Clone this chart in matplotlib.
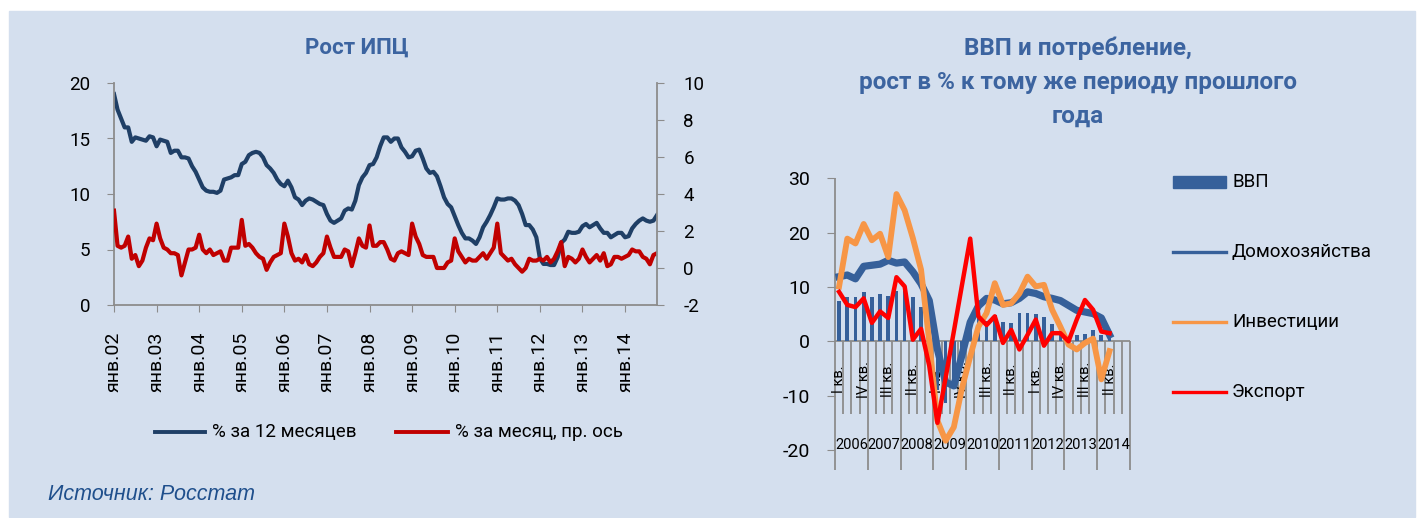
import matplotlib
matplotlib.use("Agg")
import matplotlib.pyplot as plt
from matplotlib.lines import Line2D
from matplotlib.patches import Rectangle
import numpy as np

plt.rcParams['font.family'] = ['Roboto', 'DejaVu Sans']
plt.rcParams['axes.unicode_minus'] = False

# CPI growth, monthly from Jan 2002 to Oct 2014
cpi_12m = [19.0, 17.6, 16.8, 16.0, 16.0, 14.7, 15.1, 15.0, 14.9, 14.8, 15.2, 15.1,
           14.3, 14.9, 14.8, 14.7, 13.7, 13.9, 13.9, 13.3, 13.3, 13.2, 12.5, 12.0,
           11.3, 10.6, 10.3, 10.2, 10.2, 10.1, 10.3, 11.3, 11.4, 11.5, 11.7, 11.7,
           12.7, 12.9, 13.5, 13.7, 13.8, 13.7, 13.3, 12.6, 12.3, 11.9, 11.3, 10.9,
           10.7, 11.2, 10.6, 9.7, 9.5, 9.0, 9.4, 9.6, 9.5, 9.3, 9.1, 9.0,
           8.2, 7.6, 7.4, 7.6, 7.8, 8.5, 8.7, 8.6, 9.4, 10.8, 11.5, 11.9,
           12.6, 12.7, 13.3, 14.3, 15.1, 15.1, 14.7, 15.0, 15.0, 14.2, 13.8, 13.3,
           13.4, 13.9, 14.0, 13.2, 12.3, 11.9, 12.0, 11.6, 10.7, 9.7, 9.1, 8.8,
           8.0, 7.2, 6.5, 6.0, 6.0, 5.8, 5.5, 6.1, 7.0, 7.5, 8.1, 8.8,
           9.6, 9.5, 9.5, 9.6, 9.6, 9.4, 9.0, 8.2, 7.2, 7.2, 6.8, 6.1,
           4.2, 3.7, 3.7, 3.6, 3.6, 4.3, 5.6, 5.9, 6.6, 6.5, 6.5, 6.6,
           7.1, 7.3, 7.0, 7.2, 7.4, 6.9, 6.5, 6.5, 6.1, 6.3, 6.5, 6.5,
           6.1, 6.2, 6.9, 7.3, 7.6, 7.8, 7.6, 7.5, 7.6, 8.1]
cpi_1m = [3.1, 1.2, 1.1, 1.2, 1.7, 0.5, 0.7, 0.1, 0.4, 1.1, 1.6, 1.5,
          2.4, 1.6, 1.1, 1.0, 0.8, 0.8, 0.7, -0.4, 0.3, 1.0, 1.0, 1.1,
          1.8, 1.0, 0.8, 1.0, 0.7, 0.8, 0.9, 0.4, 0.4, 1.1, 1.1, 1.1,
          2.6, 1.2, 1.3, 1.1, 0.8, 0.6, 0.5, -0.1, 0.3, 0.6, 0.7, 0.8,
          2.4, 1.7, 0.8, 0.4, 0.5, 0.3, 0.7, 0.2, 0.1, 0.3, 0.6, 0.8,
          1.7, 1.1, 0.6, 0.6, 0.6, 1.0, 0.9, 0.1, 0.8, 1.6, 1.2, 1.1,
          2.3, 1.2, 1.2, 1.4, 1.4, 1.0, 0.5, 0.4, 0.8, 0.9, 0.8, 0.7,
          2.4, 1.7, 1.3, 0.7, 0.6, 0.6, 0.6, 0.0, 0.0, 0.0, 0.3, 0.4,
          1.6, 0.9, 0.6, 0.3, 0.5, 0.4, 0.4, 0.6, 0.8, 0.5, 0.8, 1.1,
          2.4, 0.8, 0.6, 0.4, 0.5, 0.2, 0.0, -0.2, 0.0, 0.5, 0.4, 0.4,
          0.5, 0.4, 0.6, 0.3, 0.5, 0.9, 1.4, 0.1, 0.6, 0.5, 0.3, 0.5,
          1.0, 0.6, 0.3, 0.5, 0.7, 0.4, 0.8, 0.1, 0.2, 0.6, 0.6, 0.5,
          0.6, 0.7, 1.0, 0.9, 0.9, 0.6, 0.5, 0.2, 0.7, 0.8]
month_labels = ['янв.02', 'янв.03', 'янв.04', 'янв.05', 'янв.06', 'янв.07', 'янв.08',
                'янв.09', 'янв.10', 'янв.11', 'янв.12', 'янв.13', 'янв.14']

# GDP and components, quarterly 2006 Q1 - 2014 Q2 (axis runs to 2014 Q4)
years = ['2006', '2007', '2008', '2009', '2010', '2011', '2012', '2013', '2014']
quarter_names = ['I кв.', 'II кв.', 'III кв.', 'IV кв.']
gdp = [7.4, 8.2, 8.2, 9.0, 8.2, 8.7, 8.4, 9.3, 9.2, 8.1, 6.4, 1.5,
       -9.0, -11.3, -8.8, -2.6, 3.5, 5.0, 3.8, 4.9, 3.5, 3.4, 5.2, 5.3,
       5.1, 4.5, 3.2, 1.8, 0.9, 1.2, 1.3, 2.1, 1.1, 0.9]
households = [11.9, 12.2, 11.5, 13.8, 14.0, 14.2, 14.9, 14.4, 14.6, 12.8, 10.6, 7.5,
              -1.5, -7.5, -8.2, -2.5, 3.5, 6.5, 7.9, 7.6, 6.9, 7.1, 7.9, 9.1,
              8.8, 8.2, 7.9, 7.5, 6.6, 5.7, 5.4, 5.1, 4.3, 1.2]
investment = [10.1, 18.9, 18.0, 21.6, 18.6, 19.8, 15.5, 27.1, 24.1, 19.0, 13.2, 0.0,
              -14.6, -18.3, -15.8, -8.6, -2.8, 2.7, 5.2, 10.7, 6.7, 7.0, 8.8, 11.9,
              10.1, 10.4, 5.8, 2.7, -0.6, -1.5, -0.3, 0.5, -7.0, -1.8]
exports = [9.1, 6.7, 6.3, 7.9, 3.4, 5.5, 4.3, 11.8, 10.1, 0.3, 2.3, -4.5,
           -15.0, -6.7, 1.8, 10.4, 18.9, 4.6, 3.0, 4.6, -0.3, 2.1, -1.5, 1.2,
           4.0, -0.8, 1.5, 1.5, 0.0, 4.0, 7.6, 5.8, 1.8, 1.5]

BG = '#D4DFEE'
GREY = '#8C8C8C'
NAVY = '#1F3F66'
DARKRED = '#C00000'
BLUE = '#36609A'
ORANGE = '#F79646'
RED = '#FF0000'
TITLE = '#3C64A0'

W, H = 1426, 518


def fx(px):
    return px / W


def fy(py):
    return 1 - py / H


fig = plt.figure(figsize=(W / 100, H / 100), dpi=100, facecolor='white')
fig.patches.append(Rectangle((fx(9), fy(517)), (1415 - 9) / W, (517 - 11) / H,
                             transform=fig.transFigure, color=BG, zorder=-10))

# ---- left chart: CPI ----
ax1 = fig.add_axes([fx(114), fy(305), (657 - 114) / W, (305 - 83) / H])
ax1.set_facecolor('none')
months = np.arange(len(cpi_12m))
ax1.plot(months, cpi_12m, color=NAVY, lw=3.0)
ax1.set_xlim(0, len(cpi_12m) - 1)
ax1.set_ylim(0, 20)
ax1.set_yticks(range(0, 21, 5))
ax1.set_xticks(months[::12])
ax1.set_xticklabels(month_labels, rotation=90)
ax1.tick_params(axis='x', length=5, color=GREY, labelsize=14, pad=14)
ax1.tick_params(axis='y', length=5, color=GREY, labelsize=13.5, pad=12)
for s in ['top', 'right']:
    ax1.spines[s].set_visible(False)
for s in ['left', 'bottom']:
    ax1.spines[s].set_color(GREY)
    ax1.spines[s].set_linewidth(1.3)

ax2 = ax1.twinx()
ax2.plot(months, cpi_1m, color=DARKRED, lw=3.0)
ax2.set_ylim(-2, 10)
ax2.set_yticks(range(-2, 11, 2))
ax2.tick_params(axis='y', length=5, color=GREY, labelsize=13.5, pad=14)
for s in ['top', 'left', 'bottom']:
    ax2.spines[s].set_visible(False)
ax2.spines['right'].set_color(GREY)
ax2.spines['right'].set_linewidth(1.3)

fig.text(fx(357), fy(48), 'Рост ИПЦ', ha='center', va='center', fontsize=16,
         fontweight='bold', color=TITLE)

# legend of left chart
for x0, x1, col, lab in [(155, 205, NAVY, '% за 12 месяцев'),
                         (396, 448, DARKRED, '% за месяц, пр. ось')]:
    fig.add_artist(Line2D([fx(x0), fx(x1)], [fy(432), fy(432)], color=col, lw=2.8,
                          transform=fig.transFigure))
    fig.text(fx(x1 + 7), fy(432), lab, ha='left', va='center', fontsize=13.5)

# ---- right chart: GDP ----
ax3 = fig.add_axes([fx(835), fy(450), (1130 - 835) / W, (450 - 178.3) / H])
ax3.set_facecolor('none')
qx = np.arange(len(gdp))
n_slots = 4 * len(years)
ax3.bar(qx, gdp, width=0.45, color=BLUE, zorder=2)
ax3.plot(qx, households, color=BLUE, lw=5.2, zorder=3)
ax3.plot(qx, investment, color=ORANGE, lw=4.2, zorder=4)
ax3.plot(qx, exports, color=RED, lw=3.2, zorder=5)
ax3.set_xlim(-0.5, n_slots - 0.5)
ax3.set_ylim(-20, 30)
ax3.set_xticks([])
ax3.set_yticks(range(-20, 31, 10))
ax3.tick_params(axis='y', length=6, color=GREY, labelsize=14, pad=12)
for s in ax3.spines.values():
    s.set_visible(False)

ax3.vlines(-0.5, -23.7, 30, color=GREY, lw=1.3, clip_on=False, zorder=1)
ax3.axhline(0, color=GREY, lw=1.3, zorder=1)
for k in range(1, n_slots + 1):
    bottom = -23.7 if k % 4 == 0 else -13.4
    ax3.vlines(k - 0.5, bottom, 0, color=GREY, lw=1.3, clip_on=False, zorder=1)

for i in range(0, len(gdp), 3):
    ax3.text(i, -7, quarter_names[i % 4], rotation=90, ha='center', va='center',
             fontsize=10.5, zorder=1.5)
for j, yr in enumerate(years):
    ax3.text(4 * j + 1.5, -19.1, yr, ha='center', va='center', fontsize=10.5,
             zorder=1.5)

for k, line in enumerate(['ВВП и потребление,', 'рост в % к тому же периоду прошлого', 'года']):
    fig.text(fx(1078), fy(48 + 34 * k), line, ha='center', va='center', fontsize=17.5,
             fontweight='bold', color=TITLE)

# legend of right chart
fig.patches.append(Rectangle((fx(1173), fy(188)), 53 / W, 12 / H,
                             transform=fig.transFigure, color=BLUE))
fig.text(fx(1232), fy(182), 'ВВП', ha='left', va='center', fontsize=13.5)
for yy, col, lab in [(252, BLUE, 'Домохозяйства'), (322, ORANGE, 'Инвестиции'),
                     (392, RED, 'Экспорт')]:
    fig.add_artist(Line2D([fx(1173), fx(1226)], [fy(yy), fy(yy)], color=col, lw=2.4,
                          transform=fig.transFigure))
    fig.text(fx(1232), fy(yy), lab, ha='left', va='center', fontsize=13.5)

fig.text(fx(48), fy(494), 'Источник: Росстат', ha='left', va='center', fontsize=15.5,
         fontstyle='italic', family=['Liberation Sans', 'DejaVu Sans'], color='#1F4F8C')

fig.savefig('out.png', dpi=100, facecolor='white')
